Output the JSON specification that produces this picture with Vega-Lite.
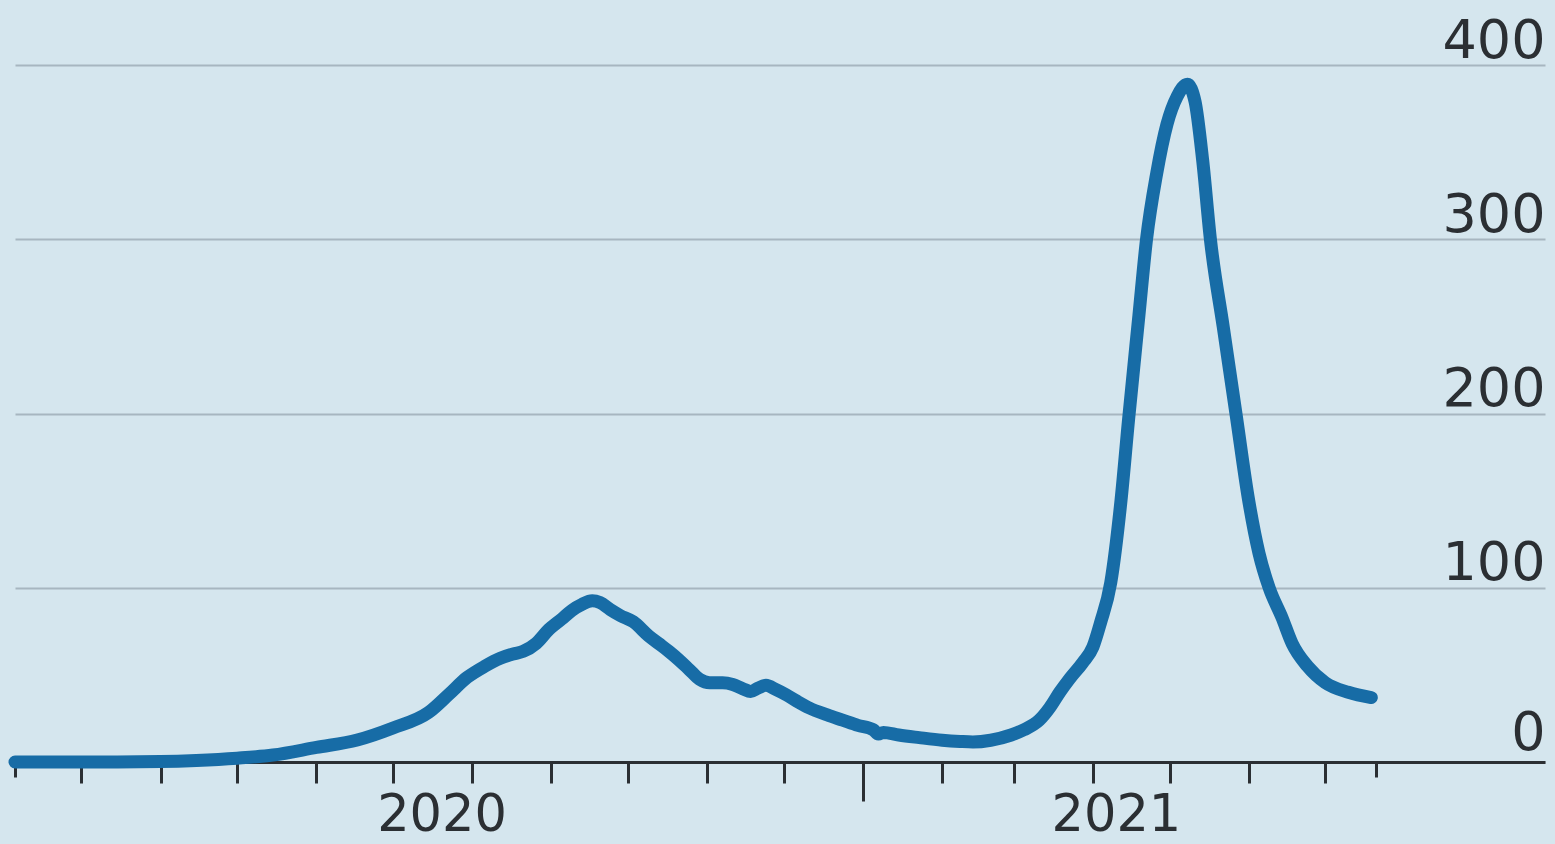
{
  "$schema": "https://vega.github.io/schema/vega-lite/v6.json",
  "autosize": {"type": "none"},
  "padding": {"left": 15, "top": 65, "right": 10, "bottom": 82},
  "width": 1530,
  "height": 697,
  "background": "#d5e6ee",
  "config": {"view": {"stroke": null}, "font": "DejaVu Sans"},
  "data": {"values": [
    {"date": "2020-02-04", "cases": 0},
    {"date": "2020-03-01", "cases": 0.01},
    {"date": "2020-03-15", "cases": 0.02},
    {"date": "2020-04-01", "cases": 0.25},
    {"date": "2020-04-15", "cases": 0.9},
    {"date": "2020-05-01", "cases": 2.2},
    {"date": "2020-05-15", "cases": 4},
    {"date": "2020-06-01", "cases": 8.4},
    {"date": "2020-06-17", "cases": 12.6},
    {"date": "2020-07-01", "cases": 19.5},
    {"date": "2020-07-15", "cases": 28.5},
    {"date": "2020-07-23", "cases": 39},
    {"date": "2020-07-30", "cases": 48.5},
    {"date": "2020-08-06", "cases": 55},
    {"date": "2020-08-12", "cases": 59.5},
    {"date": "2020-08-17", "cases": 62},
    {"date": "2020-08-21", "cases": 63.5},
    {"date": "2020-08-26", "cases": 68},
    {"date": "2020-08-31", "cases": 76},
    {"date": "2020-09-05", "cases": 82},
    {"date": "2020-09-09", "cases": 87},
    {"date": "2020-09-13", "cases": 90.5},
    {"date": "2020-09-17", "cases": 92.5},
    {"date": "2020-09-20", "cases": 91.5},
    {"date": "2020-09-24", "cases": 87.5},
    {"date": "2020-09-28", "cases": 84},
    {"date": "2020-10-03", "cases": 80.5},
    {"date": "2020-10-09", "cases": 72.5},
    {"date": "2020-10-13", "cases": 68},
    {"date": "2020-10-17", "cases": 63.5},
    {"date": "2020-10-21", "cases": 58.5},
    {"date": "2020-10-25", "cases": 53},
    {"date": "2020-10-29", "cases": 47.5},
    {"date": "2020-11-02", "cases": 45.5},
    {"date": "2020-11-07", "cases": 45.5},
    {"date": "2020-11-11", "cases": 44.5},
    {"date": "2020-11-15", "cases": 42},
    {"date": "2020-11-18", "cases": 40.5},
    {"date": "2020-11-21", "cases": 42.5},
    {"date": "2020-11-24", "cases": 44},
    {"date": "2020-11-28", "cases": 41.5},
    {"date": "2020-12-02", "cases": 38.5},
    {"date": "2020-12-06", "cases": 35},
    {"date": "2020-12-11", "cases": 31},
    {"date": "2020-12-18", "cases": 27},
    {"date": "2020-12-24", "cases": 24},
    {"date": "2020-12-30", "cases": 21},
    {"date": "2021-01-05", "cases": 18.5},
    {"date": "2021-01-07", "cases": 16},
    {"date": "2021-01-09", "cases": 17},
    {"date": "2021-01-15", "cases": 15.5},
    {"date": "2021-01-23", "cases": 14},
    {"date": "2021-02-01", "cases": 12.5},
    {"date": "2021-02-08", "cases": 11.8},
    {"date": "2021-02-13", "cases": 11.5},
    {"date": "2021-02-20", "cases": 12.5},
    {"date": "2021-02-28", "cases": 15.5},
    {"date": "2021-03-05", "cases": 18.5},
    {"date": "2021-03-11", "cases": 24},
    {"date": "2021-03-15", "cases": 31},
    {"date": "2021-03-19", "cases": 40},
    {"date": "2021-03-23", "cases": 48},
    {"date": "2021-03-28", "cases": 57},
    {"date": "2021-04-01", "cases": 66},
    {"date": "2021-04-04", "cases": 80},
    {"date": "2021-04-08", "cases": 103},
    {"date": "2021-04-12", "cases": 150},
    {"date": "2021-04-15", "cases": 197},
    {"date": "2021-04-19", "cases": 256},
    {"date": "2021-04-22", "cases": 300},
    {"date": "2021-04-26", "cases": 338},
    {"date": "2021-04-30", "cases": 366},
    {"date": "2021-05-04", "cases": 382},
    {"date": "2021-05-08", "cases": 389},
    {"date": "2021-05-11", "cases": 379},
    {"date": "2021-05-14", "cases": 345},
    {"date": "2021-05-17", "cases": 300},
    {"date": "2021-05-22", "cases": 250},
    {"date": "2021-05-27", "cases": 200},
    {"date": "2021-06-01", "cases": 150},
    {"date": "2021-06-05", "cases": 120},
    {"date": "2021-06-09", "cases": 100},
    {"date": "2021-06-14", "cases": 83},
    {"date": "2021-06-18", "cases": 68},
    {"date": "2021-06-24", "cases": 55},
    {"date": "2021-07-01", "cases": 45.5},
    {"date": "2021-07-10", "cases": 40},
    {"date": "2021-07-19", "cases": 37}
  ]},
  "mark": {"type": "line", "color": "#176ca6", "strokeWidth": 13, "strokeCap": "round", "strokeJoin": "round", "interpolate": "monotone"},
  "encoding": {
    "x": {
      "field": "date",
      "type": "temporal",
      "scale": {
        "type": "utc",
        "domain": [
          {"year": 2020, "month": 2, "date": 4, "utc": true},
          {"year": 2021, "month": 9, "date": 25, "utc": true}
        ]
      },
      "axis": {
        "title": null,
        "grid": false,
        "domain": true,
        "domainColor": "#2b2f33",
        "domainWidth": 3,
        "ticks": true,
        "tickColor": "#2b2f33",
        "tickWidth": 3,
        "tickSize": {"condition": [
          {"test": "utcmonth(datum.value) == 0 && utcdate(datum.value) == 1", "value": 39},
          {"test": "utcdate(datum.value) == 21 || utcdate(datum.value) == 4", "value": 15}
        ], "value": 21},
        "tickOpacity": {"condition": {"test": "utcdate(datum.value) == 20 || utcdate(datum.value) == 10", "value": 0}, "value": 1},
        "tickCap": "butt",
        "labelPadding": 7,
        "labelFont": "DejaVu Sans",
        "labelFontSize": 51,
        "labelColor": "#2b2f33",
        "labelAlign": "center",
        "labelBaseline": "top",
        "labelOverlap": false,
        "labelBound": false,
        "labelFlush": false,
        "labelExpr": "utcdate(datum.value) == 20 ? '2020' : (utcdate(datum.value) == 10 ? '2021' : '')",
        "values": [
          {"year": 2020, "month": 2, "date": 4, "utc": true},
          {"year": 2020, "month": 3, "date": 1, "utc": true},
          {"year": 2020, "month": 4, "date": 1, "utc": true},
          {"year": 2020, "month": 5, "date": 1, "utc": true},
          {"year": 2020, "month": 6, "date": 1, "utc": true},
          {"year": 2020, "month": 7, "date": 1, "utc": true},
          {"year": 2020, "month": 7, "date": 20, "utc": true},
          {"year": 2020, "month": 8, "date": 1, "utc": true},
          {"year": 2020, "month": 9, "date": 1, "utc": true},
          {"year": 2020, "month": 10, "date": 1, "utc": true},
          {"year": 2020, "month": 11, "date": 1, "utc": true},
          {"year": 2020, "month": 12, "date": 1, "utc": true},
          {"year": 2021, "month": 1, "date": 1, "utc": true},
          {"year": 2021, "month": 2, "date": 1, "utc": true},
          {"year": 2021, "month": 3, "date": 1, "utc": true},
          {"year": 2021, "month": 4, "date": 1, "utc": true},
          {"year": 2021, "month": 4, "date": 10, "utc": true},
          {"year": 2021, "month": 5, "date": 1, "utc": true},
          {"year": 2021, "month": 6, "date": 1, "utc": true},
          {"year": 2021, "month": 7, "date": 1, "utc": true},
          {"year": 2021, "month": 7, "date": 21, "utc": true}
        ]
      }
    },
    "y": {
      "field": "cases",
      "type": "quantitative",
      "scale": {"domain": [0, 400], "nice": false, "zero": true},
      "axis": {
        "orient": "right",
        "title": null,
        "values": [0, 100, 200, 300, 400],
        "grid": true,
        "gridColor": "#a7b6c0",
        "gridWidth": 2,
        "domain": false,
        "ticks": false,
        "tickSize": 0,
        "labelPadding": 0,
        "labelAlign": "right",
        "labelBaseline": "alphabetic",
        "labelOffset": {"condition": {"test": "datum.value == 0", "value": -13}, "value": -8},
        "labelFont": "DejaVu Sans",
        "labelFontSize": 54,
        "labelColor": "#2b2f33"
      }
    }
  }
}
